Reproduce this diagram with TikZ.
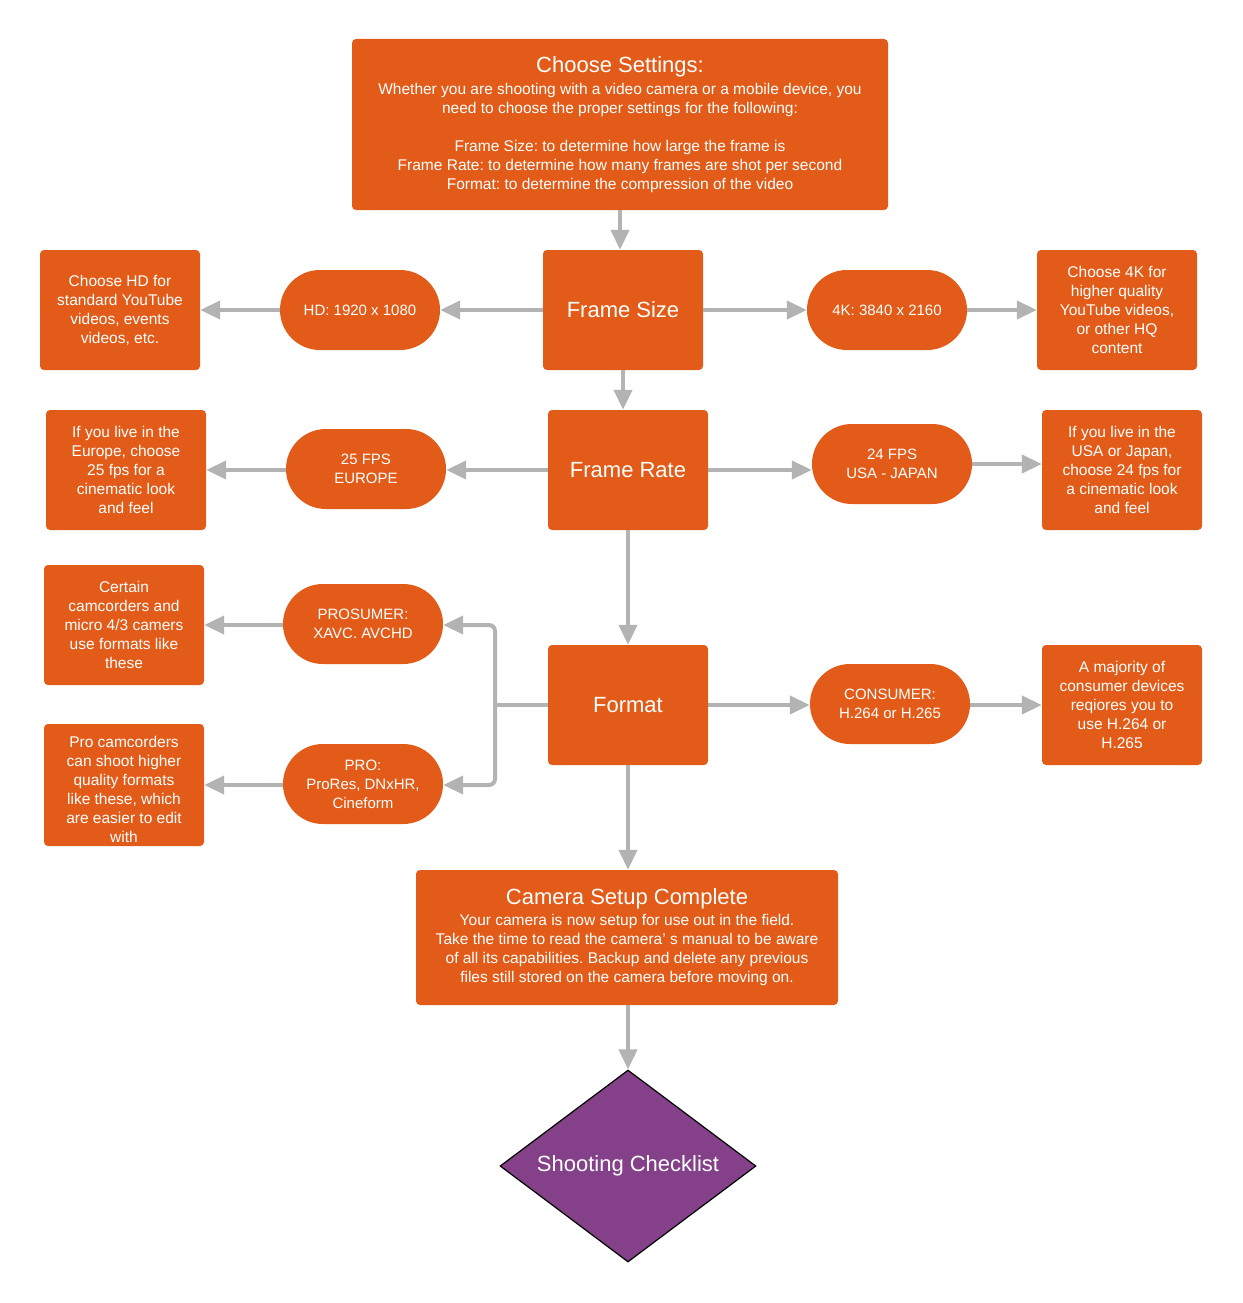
\documentclass[tikz,border=0pt]{standalone}
\usepackage{fontspec}
\setmainfont{Liberation Sans}
\usetikzlibrary{arrows.meta,shapes.geometric,calc}
\definecolor{org}{HTML}{E25B18}
\definecolor{gry}{HTML}{B3B3B3}
\definecolor{prp}{HTML}{84418A}
\frenchspacing
\begin{document}
\begin{tikzpicture}[x=1pt,y=-1pt,
  box/.style={fill=org, rounded corners=4pt, inner sep=0pt, text=white, align=center, font=\fontsize{15.5}{19}\selectfont},
  desc/.style={box, minimum width=160pt, minimum height=120pt},
  mainbox/.style={box, minimum width=160pt, minimum height=120pt, font=\fontsize{22}{26}\selectfont},
  pill/.style={box, rounded corners=39.9pt, minimum width=160pt, minimum height=80pt, font=\fontsize{15}{19}\selectfont},
  arr/.style={draw=gry, line width=4pt, -{Triangle[length=20pt,width=18pt]}},
  ln/.style={draw=gry, line width=4pt}]
\useasboundingbox (0,0) rectangle (1242,1303);
% top
\node[box, minimum width=536pt, minimum height=171pt] (cs) at (620,124.5)
 {{\fontsize{22}{26}\selectfont Choose Settings:}\\[3pt]
 Whether you are shooting with a video camera or a mobile device, you\\
 need to choose the proper settings for the following:\\[19pt]
 Frame Size: to determine how large the frame is\\
 Frame Rate: to determine how many frames are shot per second\\
 Format: to determine the compression of the video};
% main column
\node[mainbox] (fs) at (623,310) {Frame Size};
\node[mainbox] (fr) at (628,470) {Frame Rate};
\node[mainbox] (fmt) at (628,705) {Format};
\node[box, minimum width=422pt, minimum height=135pt] (cam) at (627,937.5)
 {{\fontsize{22}{26}\selectfont Camera Setup Complete}\\[2pt]
 Your camera is now setup for use out in the field.\\
 Take the time to read the camera' s manual to be aware\\
 of all its capabilities. Backup and delete any previous\\
 files still stored on the camera before moving on.};
\node[diamond, draw=black, line width=1.2pt, fill=prp, minimum width=256pt, minimum height=192pt, inner sep=0pt, aspect=1.333, text=white, font=\fontsize{22}{26}\selectfont] (chk) at (628,1166) {Shooting Checklist};
% pills
\node[pill] (hd) at (360,310) {HD: 1920 x 1080};
\node[pill] (k4) at (887,310) {4K: 3840 x 2160};
\node[pill] (p25) at (366,469) {25 FPS\\EUROPE};
\node[pill] (p24) at (892,464) {24 FPS\\USA - JAPAN};
\node[pill] (pros) at (363,624) {PROSUMER:\\XAVC. AVCHD};
\node[pill] (pro) at (363,784) {PRO:\\ProRes, DNxHR,\\Cineform};
\node[pill] (con) at (890,704) {CONSUMER:\\H.264 or H.265};
% descriptions
\node[desc] (dhd) at (120,310) {Choose HD for\\standard YouTube\\videos, events\\videos, etc.};
\node[desc] (d4k) at (1117,310) {Choose 4K for\\higher quality\\YouTube videos,\\or other HQ\\content};
\node[desc] (deu) at (126,470) {If you live in the\\Europe, choose\\25 fps for a\\cinematic look\\and feel};
\node[desc] (dus) at (1122,470) {If you live in the\\USA or Japan,\\choose 24 fps for\\a cinematic look\\and feel};
\node[desc] (dpros) at (124,625) {Certain\\camcorders and\\micro 4/3 camers\\use formats like\\these};
\node[desc, minimum height=122pt] (dpro) at (124,785) {};
\node[box, fill=none, text=white] (dprot) at (124,789) {Pro camcorders\\can shoot higher\\quality formats\\like these, which\\are easier to edit\\with};
\node[desc] (dcon) at (1122,705) {A majority of\\consumer devices\\reqiores you to\\use H.264 or\\H.265};
% connectors
\draw[arr] (cs.south) -- (cs.south |- fs.north);
\draw[arr] (fs.south) -- (fs.south |- fr.north);
\draw[arr] (fr.south) -- (fmt.north);
\draw[arr] (fmt.south) -- (cam.north -| fmt.south);
\draw[arr] (chk.north |- cam.south) -- (chk.north);
\draw[arr] (fs.west) -- (hd.east);
\draw[arr] (hd.west) -- (dhd.east);
\draw[arr] (fs.east) -- (k4.west);
\draw[arr] (k4.east) -- (d4k.west);
\draw[arr] (fr.west) -- (fr.west -| p25.east);
\draw[arr] (p25.west |- deu.east) -- (deu.east);
\draw[arr] (fr.east) -- (fr.east -| p24.west);
\draw[arr] (p24.east) -- (p24.east -| dus.west);
\draw[arr] (pros.west |- dpros.east) -- (dpros.east);
\draw[arr] (pro.west |- dpro.east) -- (dpro.east);
\draw[arr] (fmt.east) -- (fmt.east -| con.west);
\draw[arr] (con.east |- dcon.west) -- (dcon.west);
\coordinate (jn) at (495,705);
\draw[ln] (fmt.west) -- (jn);
\draw[arr, rounded corners=6pt] (jn) |- (pros.east |- dpros.east);
\draw[arr, rounded corners=6pt] (jn) |- (pro.east |- dpro.east);
\end{tikzpicture}
\end{document}
